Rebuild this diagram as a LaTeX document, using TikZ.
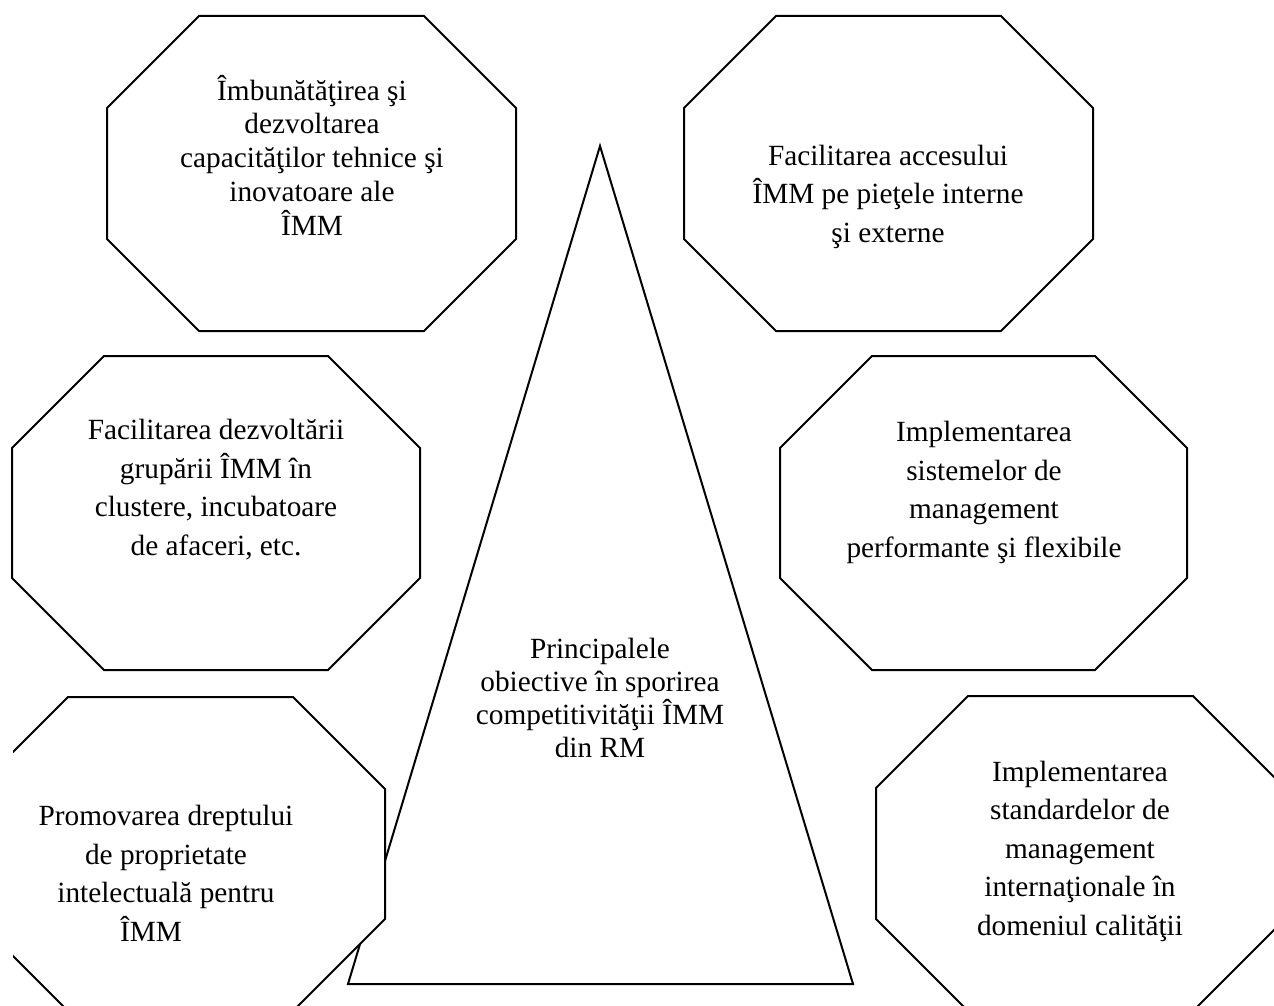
\documentclass[tikz,border=0pt]{standalone}
\usepackage{fontspec}
\setmainfont{Liberation Serif}
\tikzset{
  octo/.style={draw=black, fill=white, line width=2pt, line join=miter},
  tri/.style={draw=black, line width=2pt, line join=miter},
  lbl/.style={align=center, anchor=base, inner sep=0pt},
  sa/.style={font=\fontsize{29.3}{33.7}\selectfont},
  sb/.style={font=\fontsize{29.3}{38.5}\selectfont},
  sc/.style={font=\fontsize{29.3}{32.7}\selectfont}
}
% octagon: left, top, right, bottom, cut
\newcommand{\octpath}[5]{%
  (#1,#2+#5) -- (#1+#5,#2) -- (#3-#5,#2) -- (#3,#2+#5) -- (#3,#4-#5) -- (#3-#5,#4) -- (#1+#5,#4) -- (#1,#4-#5) -- cycle}
\begin{document}
\begin{tikzpicture}[x=1pt, y=-1pt]
\useasboundingbox (0,0) rectangle (1274,1006);
\clip (0,0) rectangle (1274,1006);
% central triangle
\coordinate (apex) at (600,146);
\coordinate (bl) at (348,984);
\coordinate (br) at (853,984);
\draw[tri] (apex) -- (br) -- (bl) -- cycle;
% octagons
\draw[octo] \octpath{107}{16}{516}{331}{92};
\draw[octo] \octpath{684}{16}{1093}{331}{92};
\draw[octo] \octpath{12}{356}{420}{670}{92};
\draw[octo] \octpath{780}{356}{1187}{670}{92};
\begin{scope}
\clip (13,0) rectangle (1274,1006);
\draw[octo] \octpath{-24}{697}{385}{1011}{92};
\end{scope}
\draw[octo] \octpath{876}{696}{1285}{1011}{92};
% texts (anchor base = baseline of last line)
\node[lbl, sa] (t1) at (312,235) {Îmbunătăţirea şi\\dezvoltarea\\capacităţilor tehnice şi\\inovatoare ale\\ÎMM};
\node[lbl, sb] (t2) at (888,242) {Facilitarea accesului\\ÎMM pe pieţele interne\\şi externe};
\node[lbl, sb] (t3) at (216,555) {Facilitarea dezvoltării\\grupării ÎMM în\\clustere, incubatoare\\de afaceri, etc.};
\node[lbl, sb] (t4) at (984,557) {Implementarea\\sistemelor de\\management\\performante şi flexibile};
\node[lbl, sb] (t5) at (166,941) {Promovarea dreptului\\de proprietate\\intelectuală pentru\\ÎMM\kern30pt};
\node[lbl, sb] (t6) at (1080,935) {Implementarea\\standardelor de\\management\\internaţionale în\\domeniul calităţii};
\node[lbl, sc] (tc) at (600,757) {Principalele\\obiective în sporirea\\competitivităţii ÎMM\\din RM};
\end{tikzpicture}
\end{document}
